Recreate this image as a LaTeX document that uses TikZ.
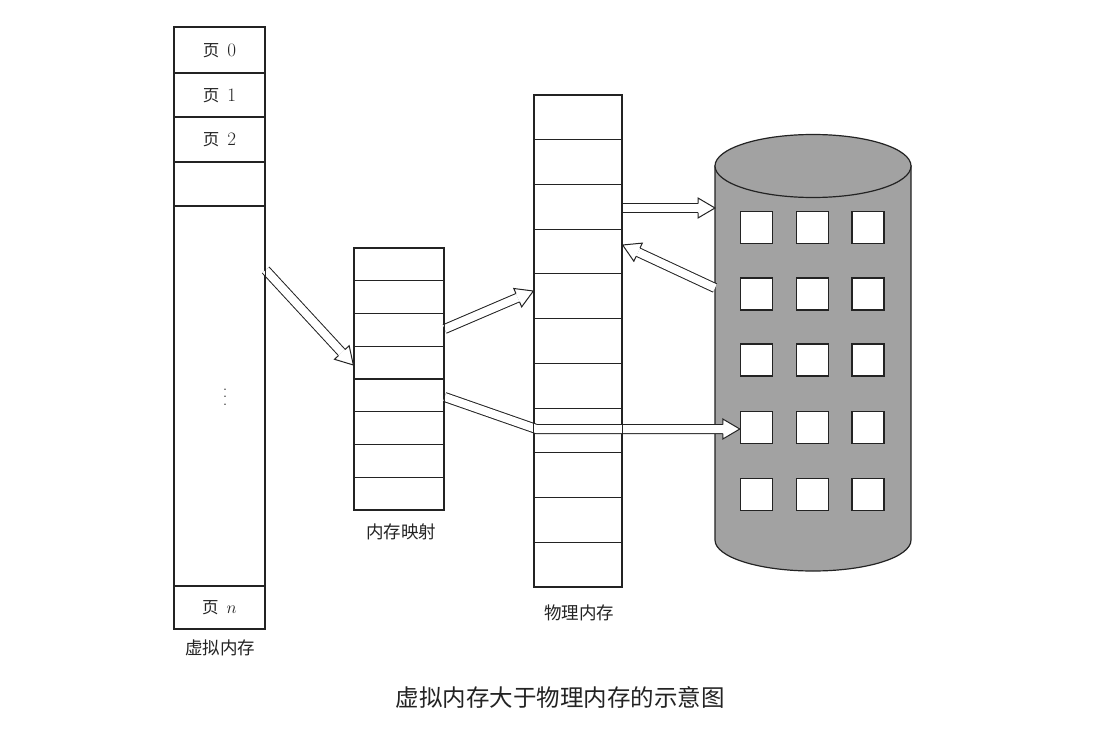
\documentclass[tikz,border=0pt]{standalone}
\usepackage{fontspec}
\newfontfamily\cjk{Noto Sans CJK SC}
\usetikzlibrary{calc}
\definecolor{ink}{RGB}{35,35,35}
\definecolor{cylgray}{RGB}{162,162,162}
\newcommand\ye{{\cjk\fontsize{16.5}{17}\selectfont 页}}
\tikzset{
  col/.style={draw=ink, line width=1.3pt, inner sep=0pt},
  rowline/.style={draw=ink, line width=1.1pt},
  pg/.style={inner sep=0pt, text=ink, font=\fontsize{19}{19}\selectfont},
  lab/.style={inner sep=0pt, text=ink, font=\cjk\fontsize{17.5}{18}\selectfont},
  capt/.style={inner sep=0pt, text=ink, font=\cjk\fontsize{23.5}{24}\selectfont},
  sq/.style={draw=ink, fill=white, line width=1.4pt, minimum size=32pt, inner sep=0pt},
  cylline/.style={draw=ink, line width=1.2pt},
  shaft/.style={draw=ink, double=white, double distance=8pt, line width=1pt, line join=miter},
  headst/.style={draw=ink, fill=white, line width=1pt, line join=miter}
}
\newcommand\ahead[2]{%
  \coordinate (hb) at ($(#2)!17pt!(#1)$);
  \filldraw[headst] ($(hb)!4.5pt!90:(#2)$) -- ($(hb)!10pt!90:(#2)$) -- (#2)
     -- ($(hb)!10pt!-90:(#2)$) -- ($(hb)!4.5pt!-90:(#2)$);
}
\begin{document}
\begin{tikzpicture}[x=1pt,y=-1pt]
\useasboundingbox[fill=white] (0,0) rectangle (1103,741);

% virtual memory
\node[col, minimum width=91pt, minimum height=602pt] (vm) at (219.5,328) {};
\foreach \y in {73,117,162,206,586} \draw[rowline] (174,\y) -- (265,\y);
\node[pg] (p0) at (219.5,51) {\ye\hspace{8pt}0};
\node[pg] (p1) at (219.5,96) {\ye\hspace{8pt}1};
\node[pg] (p2) at (219.5,140) {\ye\hspace{8pt}2};
\node[pg] (pn) at (219.5,608) {\ye\hspace{8pt}$n$};
\node[inner sep=0pt, text=ink, align=center, font=\fontsize{18}{7.5}\selectfont] (dots) at (225,397) {.\\.\\.};

% memory map
\node[col, minimum width=90pt, minimum height=262pt] (mm) at (399,379) {};
\foreach \k in {1,...,7} \draw[rowline] (354,{248+32.75*\k}) -- (444,{248+32.75*\k});

% physical memory
\node[col, minimum width=88pt, minimum height=492pt] (pm) at (578,341) {};
\foreach \k in {1,...,10} \draw[rowline] (534,{95+44.727*\k}) -- (622,{95+44.727*\k});

% disk (cylinder)
\filldraw[cylline, fill=cylgray] (715,166) -- (715,540)
   arc[start angle=180, end angle=0, x radius=98, y radius=31] -- (911,166) -- cycle;
\filldraw[cylline, fill=cylgray] (813,166) ellipse[x radius=98, y radius=31.5];
\coordinate (disk) at (813,353);
\foreach \c/\x in {1/756.5,2/812.5,3/868}
  \foreach \r/\y in {1/227.5,2/294,3/360,4/427.5,5/494.5}
    \node[sq] (s\r\c) at (\x,\y) {};

% arrow end points
\coordinate (a1s) at ($(vm.east)+(0,-58)$);
\coordinate (a1t) at ($(mm.west)+(0,-14)$);
\coordinate (a2s) at ($(mm.east)+(0,-50)$);
\coordinate (a2t) at ($(pm.west)+(0,-50)$);
\coordinate (a3s) at ($(mm.east)+(0,18)$);
\coordinate (a3b) at ($(pm.west)+(3,88)$);
\coordinate (a3t) at ($(s41.west)+(0,1.5)$);
\coordinate (a4s) at ($(pm.east)+(0,-133)$);
\coordinate (a4t) at ($(disk)+(-98,-145)$);
\coordinate (a5s) at ($(disk)+(-98,-65)$);
\coordinate (a5t) at ($(pm.east)+(0,-96)$);

% arrows
\draw[shaft] (a1s) -- ($(a1t)!17pt!(a1s)$); \ahead{a1s}{a1t}
\draw[shaft] (a2s) -- ($(a2t)!17pt!(a2s)$); \ahead{a2s}{a2t}
\draw[shaft] (a3s) -- (a3b) -- ($(a3t)!17pt!(a3b)$); \ahead{a3b}{a3t}
\draw[shaft] (a4s) -- ($(a4t)!17pt!(a4s)$); \ahead{a4s}{a4t}
\draw[shaft] (a5s) -- ($(a5t)!17pt!(a5s)$); \ahead{a5s}{a5t}

% redraw column outlines over arrow ends
\draw[col] (vm.north west) rectangle (vm.south east);
\draw[col] (mm.north west) rectangle (mm.south east);
\draw[col] (pm.north west) rectangle (pm.south east);

% labels
\node[lab] (lvm) at (220,648) {虚拟内存};
\node[lab] (lmm) at (401,532) {内存映射};
\node[lab] (lpm) at (579,613) {物理内存};
\node[capt] (cap) at (560,697) {虚拟内存大于物理内存的示意图};
\end{tikzpicture}
\end{document}
